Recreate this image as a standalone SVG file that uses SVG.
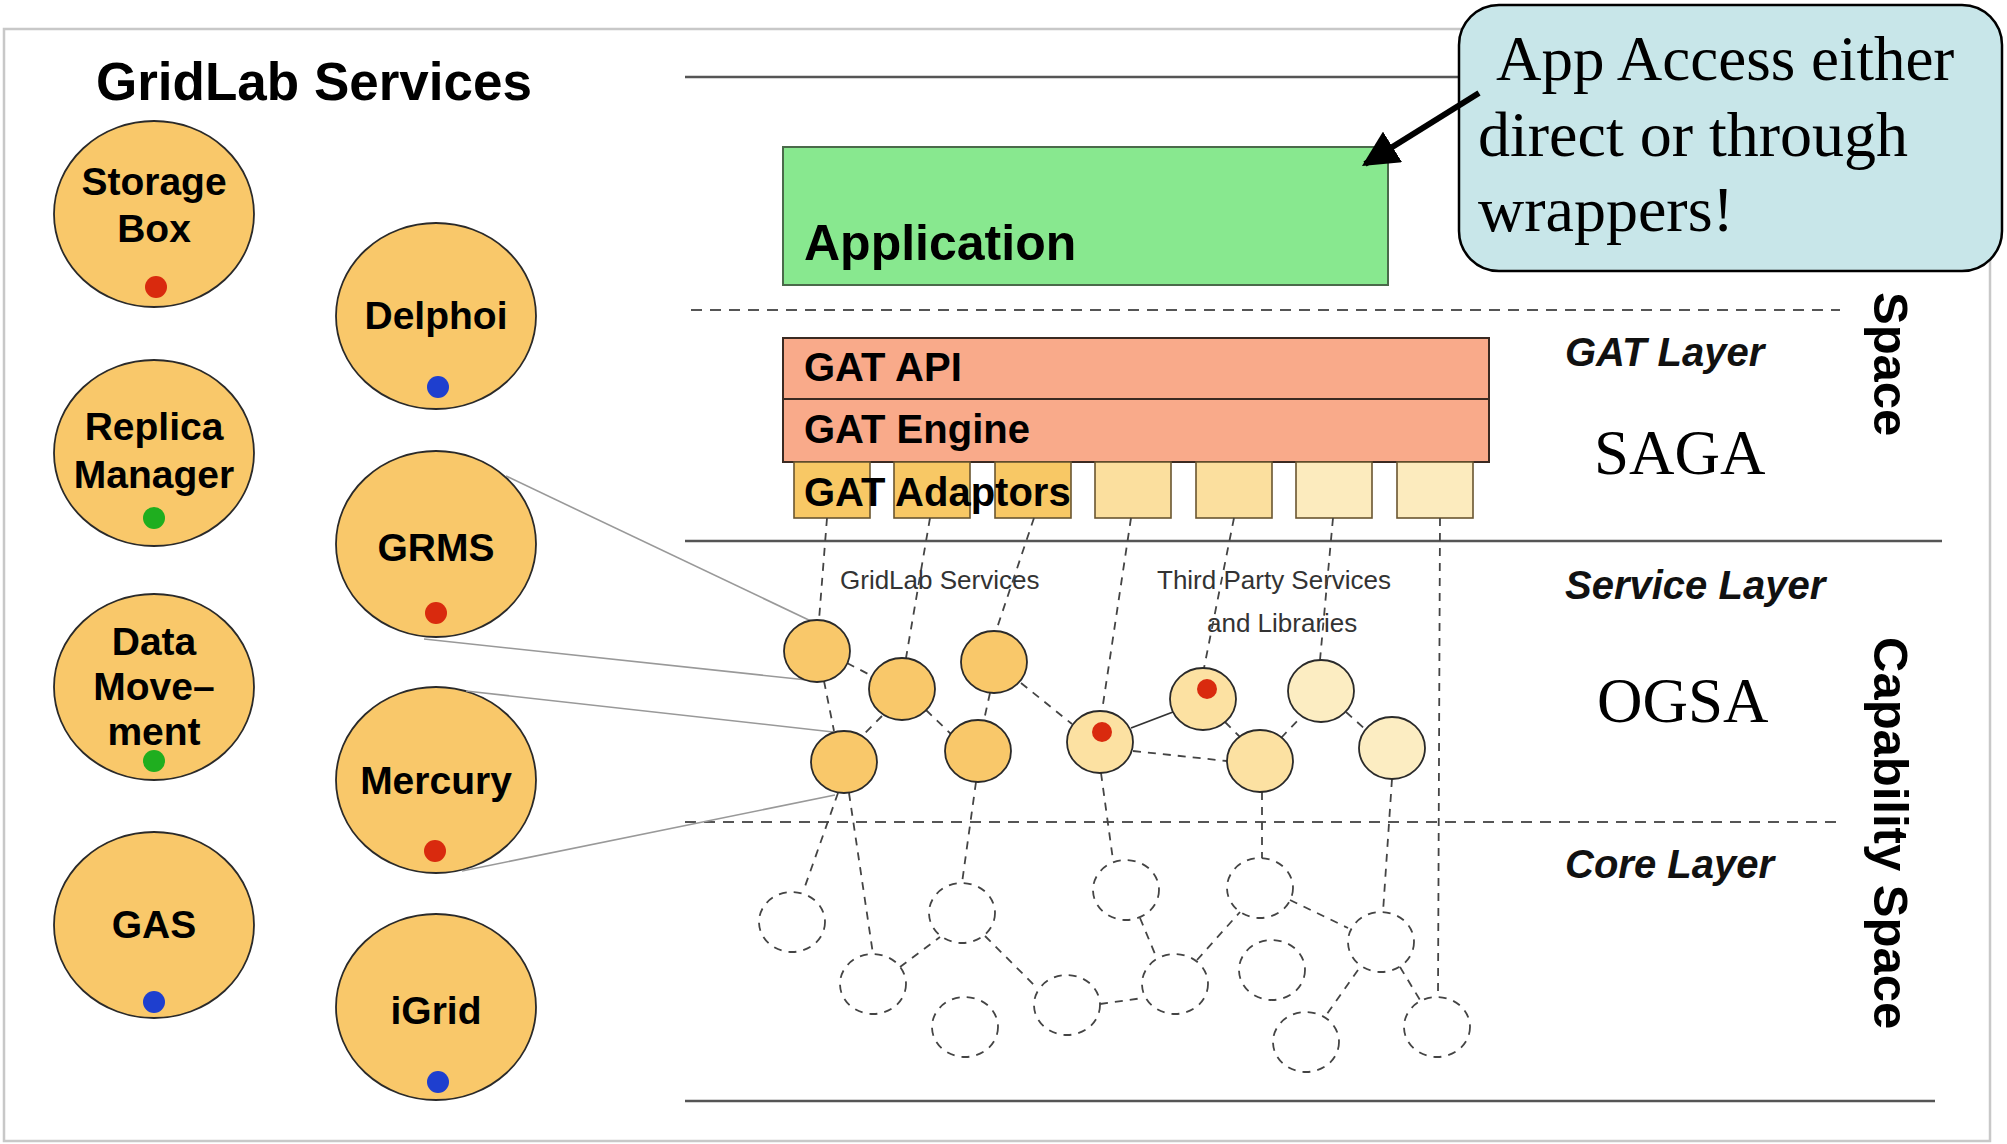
<svg xmlns="http://www.w3.org/2000/svg" width="2007" height="1144" viewBox="0 0 2007 1144">
<defs>
<style>
.sans{font-family:"Liberation Sans",Arial,sans-serif;}
.serif{font-family:"Liberation Serif","Times New Roman",serif;}
.big{font-family:"Liberation Sans",Arial,sans-serif;font-weight:bold;font-size:39px;fill:#000;}
.svc{fill:#F9C86A;stroke:#2a2a2a;stroke-width:1.8;}
.sv1{fill:#F9C86A;stroke:#2a2a2a;stroke-width:1.8;}
.sv2{fill:#FCE1A2;stroke:#2a2a2a;stroke-width:1.8;}
.sv3{fill:#FCEDC2;stroke:#2a2a2a;stroke-width:1.8;}
.core{fill:none;stroke:#444;stroke-width:1.8;stroke-dasharray:8,7;}
.dash{fill:none;stroke:#444;stroke-width:1.8;stroke-dasharray:8,7;}
.gray{stroke:#999;stroke-width:1.6;fill:none;}
.layer{stroke:#555;stroke-width:2.5;}
.ldash{stroke:#555;stroke-width:2;stroke-dasharray:11,8;}
.lbl{font-family:"Liberation Sans",Arial,sans-serif;font-weight:bold;font-style:italic;font-size:40px;fill:#111;}
.small{font-family:"Liberation Sans",Arial,sans-serif;font-size:26px;fill:#333;}
.red{fill:#D92A0E;}
.blue{fill:#1E3FCF;}
.green{fill:#1FAE1F;}
</style>
<marker id="ah" viewBox="0 0 10 10" refX="9" refY="5" markerWidth="6" markerHeight="6" orient="auto" markerUnits="strokeWidth">
<path d="M0,0 L10,5 L0,10 z" fill="#000"/>
</marker>
</defs>

<rect x="0" y="0" width="2007" height="1144" fill="#fff"/>
<rect id="frame" x="4" y="29" width="1986" height="1112" fill="#fff" stroke="#c8c8c8" stroke-width="2.5"/>

<g id="layers">
<line class="layer" x1="685" y1="77" x2="1942" y2="77"/>
<line class="ldash" x1="691" y1="310" x2="1840" y2="310"/>
<line class="layer" x1="685" y1="541" x2="1942" y2="541"/>
<line class="ldash" x1="685" y1="822" x2="1840" y2="822"/>
<line class="layer" x1="685" y1="1101" x2="1935" y2="1101"/>
</g>

<text class="sans" x="96" y="100" font-size="53" font-weight="bold">GridLab Services</text>

<g id="storage-box"><ellipse class="svc" cx="154" cy="214" rx="100" ry="93"/><text class="big" x="154" y="195" text-anchor="middle">Storage</text><text class="big" x="154" y="242" text-anchor="middle">Box</text><circle class="red" cx="156" cy="287" r="11"/></g>
<g id="delphoi"><ellipse class="svc" cx="436" cy="316" rx="100" ry="93"/><text class="big" x="436" y="329" text-anchor="middle">Delphoi</text><circle class="blue" cx="438" cy="387" r="11"/></g>
<g id="replica-manager"><ellipse class="svc" cx="154" cy="453" rx="100" ry="93"/><text class="big" x="154" y="440" text-anchor="middle">Replica</text><text class="big" x="154" y="488" text-anchor="middle">Manager</text><circle class="green" cx="154" cy="518" r="11"/></g>
<g id="grms"><ellipse class="svc" cx="436" cy="544" rx="100" ry="93"/><text class="big" x="436" y="561" text-anchor="middle">GRMS</text><circle class="red" cx="436" cy="613" r="11"/></g>
<g id="data-movement"><ellipse class="svc" cx="154" cy="687" rx="100" ry="93"/><text class="big" x="154" y="655" text-anchor="middle">Data</text><text class="big" x="154" y="700" text-anchor="middle">Move–</text><text class="big" x="154" y="745" text-anchor="middle">ment</text><circle class="green" cx="154" cy="761" r="11"/></g>
<g id="mercury"><ellipse class="svc" cx="436" cy="780" rx="100" ry="93"/><text class="big" x="436" y="794" text-anchor="middle">Mercury</text><circle class="red" cx="435" cy="851" r="11"/></g>
<g id="gas"><ellipse class="svc" cx="154" cy="925" rx="100" ry="93"/><text class="big" x="154" y="938" text-anchor="middle">GAS</text><circle class="blue" cx="154" cy="1002" r="11"/></g>
<g id="igrid"><ellipse class="svc" cx="436" cy="1007" rx="100" ry="93"/><text class="big" x="436" y="1024" text-anchor="middle">iGrid</text><circle class="blue" cx="438" cy="1082" r="11"/></g>

<g id="application"><rect x="783" y="147" width="605" height="138" fill="#88E88F" stroke="#4a6a4a" stroke-width="2"/><text class="sans" x="804" y="260" font-size="50" font-weight="bold">Application</text></g>
<g id="gat-api"><rect x="783" y="338" width="706" height="61" fill="#F9AA8A" stroke="#3a2a22" stroke-width="2"/><text class="sans" x="804" y="381" font-size="40" font-weight="bold">GAT API</text></g>
<g id="gat-engine"><rect x="783" y="399" width="706" height="63" fill="#F9AA8A" stroke="#3a2a22" stroke-width="2"/><text class="sans" x="804" y="443" font-size="40" font-weight="bold">GAT Engine</text></g>
<g id="adaptors">
<rect x="794" y="462" width="76" height="56" fill="#F8C865" stroke="#6a5530" stroke-width="1.6"/>
<rect x="894" y="462" width="76" height="56" fill="#F8C865" stroke="#6a5530" stroke-width="1.6"/>
<rect x="995" y="462" width="76" height="56" fill="#F8C865" stroke="#6a5530" stroke-width="1.6"/>
<rect x="1095" y="462" width="76" height="56" fill="#FBDF9E" stroke="#6a5530" stroke-width="1.6"/>
<rect x="1196" y="462" width="76" height="56" fill="#FBDF9E" stroke="#6a5530" stroke-width="1.6"/>
<rect x="1296" y="462" width="76" height="56" fill="#FCEBBE" stroke="#6a5530" stroke-width="1.6"/>
<rect x="1397" y="462" width="76" height="56" fill="#FCEBBE" stroke="#6a5530" stroke-width="1.6"/>
<text class="sans" x="804" y="506" font-size="40" font-weight="bold">GAT Adaptors</text>
</g>

<text class="lbl" x="1565" y="366">GAT Layer</text>
<text class="serif" x="1594" y="474" font-size="63">SAGA</text>
<text class="lbl" x="1565" y="599">Service Layer</text>
<text class="serif" x="1597" y="722" font-size="63">OGSA</text>
<text class="lbl" x="1565" y="878">Core Layer</text>
<text class="sans" font-size="49" font-weight="bold" transform="translate(1874,292) rotate(90)">Space</text>
<text class="sans" font-size="49" font-weight="bold" transform="translate(1874,637) rotate(90)">Capability Space</text>

<text class="small" x="840" y="589">GridLab Services</text>
<text class="small" x="1157" y="589">Third Party Services</text>
<text class="small" x="1207" y="632">and Libraries</text>

<g id="connectors">
<line class="gray" x1="506" y1="476" x2="813" y2="622"/>
<line class="gray" x1="424" y1="639" x2="807" y2="680"/>
<line class="gray" x1="466" y1="691" x2="842" y2="733"/>
<line class="gray" x1="462" y1="871" x2="835" y2="795"/>
<line class="dash" x1="827" y1="518" x2="819" y2="620"/>
<line class="dash" x1="930" y1="518" x2="906" y2="658"/>
<line class="dash" x1="1034" y1="518" x2="996" y2="631"/>
<line class="dash" x1="1131" y1="518" x2="1102" y2="711"/>
<line class="dash" x1="1234" y1="518" x2="1204" y2="668"/>
<line class="dash" x1="1333" y1="518" x2="1320" y2="660"/>
<line class="dash" x1="1440" y1="518" x2="1438" y2="997"/>
<line class="dash" x1="847" y1="663" x2="872" y2="676"/>
<line class="dash" x1="824" y1="681" x2="834" y2="731"/>
<line class="dash" x1="882" y1="716" x2="864" y2="734"/>
<line class="dash" x1="926" y1="710" x2="952" y2="735"/>
<line class="dash" x1="990" y1="693" x2="984" y2="720"/>
<line class="dash" x1="1021" y1="683" x2="1072" y2="724"/>
<line x1="1131" y1="728" x2="1173" y2="712" stroke="#333" stroke-width="1.8"/>
<line class="dash" x1="1133" y1="751" x2="1227" y2="761"/>
<line class="dash" x1="1225" y1="722" x2="1240" y2="737"/>
<line class="dash" x1="1281" y1="738" x2="1302" y2="716"/>
<line class="dash" x1="1346" y1="712" x2="1366" y2="730"/>
<line class="dash" x1="838" y1="793" x2="803" y2="892"/>
<line class="dash" x1="849" y1="793" x2="873" y2="954"/>
<line class="dash" x1="976" y1="782" x2="962" y2="883"/>
<line class="dash" x1="900" y1="967" x2="940" y2="937"/>
<line class="dash" x1="985" y1="936" x2="1037" y2="988"/>
<line class="dash" x1="1100" y1="1004" x2="1143" y2="998"/>
<line class="dash" x1="1101" y1="773" x2="1113" y2="860"/>
<line class="dash" x1="1140" y1="918" x2="1155" y2="954"/>
<line class="dash" x1="1197" y1="960" x2="1240" y2="912"/>
<line class="dash" x1="1262" y1="792" x2="1262" y2="858"/>
<line class="dash" x1="1290" y1="900" x2="1348" y2="928"/>
<line class="dash" x1="1392" y1="779" x2="1383" y2="912"/>
<line class="dash" x1="1358" y1="970" x2="1327" y2="1014"/>
<line class="dash" x1="1400" y1="967" x2="1420" y2="1000"/>
</g>

<g id="service-nodes">
<ellipse class="sv1" cx="817" cy="651" rx="33" ry="31"/>
<ellipse class="sv1" cx="902" cy="689" rx="33" ry="31"/>
<ellipse class="sv1" cx="994" cy="662" rx="33" ry="31"/>
<ellipse class="sv1" cx="844" cy="762" rx="33" ry="31"/>
<ellipse class="sv1" cx="978" cy="751" rx="33" ry="31"/>
<ellipse class="sv2" cx="1100" cy="742" rx="33" ry="31"/>
<circle class="red" cx="1102" cy="732" r="10"/>
<ellipse class="sv2" cx="1203" cy="699" rx="33" ry="31"/>
<circle class="red" cx="1207" cy="689" r="10"/>
<ellipse class="sv3" cx="1321" cy="691" rx="33" ry="31"/>
<ellipse class="sv2" cx="1260" cy="761" rx="33" ry="31"/>
<ellipse class="sv3" cx="1392" cy="748" rx="33" ry="31"/>
</g>

<g id="core-nodes">
<ellipse class="core" cx="792" cy="922" rx="33" ry="30"/>
<ellipse class="core" cx="873" cy="984" rx="33" ry="30"/>
<ellipse class="core" cx="962" cy="913" rx="33" ry="30"/>
<ellipse class="core" cx="965" cy="1027" rx="33" ry="30"/>
<ellipse class="core" cx="1067" cy="1005" rx="33" ry="30"/>
<ellipse class="core" cx="1126" cy="890" rx="33" ry="30"/>
<ellipse class="core" cx="1175" cy="984" rx="33" ry="30"/>
<ellipse class="core" cx="1260" cy="888" rx="33" ry="30"/>
<ellipse class="core" cx="1272" cy="970" rx="33" ry="30"/>
<ellipse class="core" cx="1381" cy="942" rx="33" ry="30"/>
<ellipse class="core" cx="1306" cy="1042" rx="33" ry="30"/>
<ellipse class="core" cx="1437" cy="1027" rx="33" ry="30"/>
</g>

<g id="callout">
<rect x="1459" y="5" width="543" height="266" rx="40" ry="40" fill="#C8E6E9" stroke="#000" stroke-width="2.5"/>
<text class="serif" x="1496" y="80" font-size="63">App Access either</text>
<text class="serif" x="1478" y="156" font-size="64">direct or through</text>
<text class="serif" x="1478" y="231" font-size="64">wrappers!</text>
<line x1="1479" y1="93" x2="1365" y2="164" stroke="#000" stroke-width="6" marker-end="url(#ah)"/>
</g>
</svg>
